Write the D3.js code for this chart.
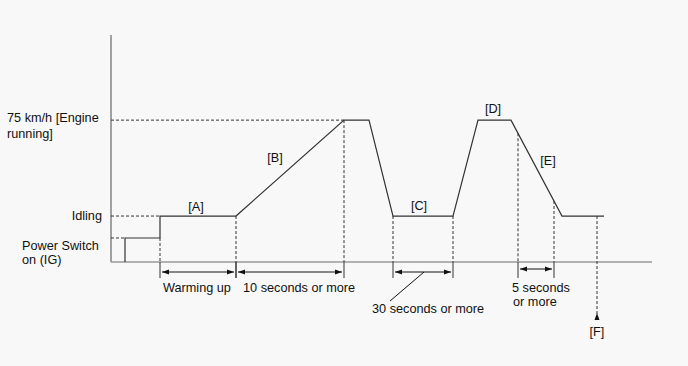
<!DOCTYPE html>
<html><head><meta charset="utf-8">
<script src="https://cdn.jsdelivr.net/npm/d3@7"></script>
<style>
html,body{margin:0;padding:0;background:#f8f8f8;}
svg{display:block;}
text{font-family:Arial,"Liberation Sans",sans-serif;font-size:12.7px;fill:#111;}
</style></head>
<body>
<svg id="c" width="688" height="366"></svg>
<script>
// ---- data (time offset in arbitrary units, speed in km/h) ----
const profileT = [14, 14, 49, 49, 125, 233, 258, 282, 342, 367, 400, 451, 493];
const profileV = [0, 12.7, 12.7, 24.3, 24.3, 75, 75, 24.3, 24.3, 75, 75, 24.3, 24.3];
const levelNames = ["Power Switch on (IG)", "Idling", "75 km/h [Engine running]"];
const levelValues = [12.7, 24.3, 75];
const phaseLabels = ["[A]", "[B]", "[C]", "[D]", "[E]"];
const intervalStart = [49, 125, 282, 407];
const intervalEnd = [125, 233, 342, 443];
const intervalLabels = ["Warming up", "10 seconds or more", "30 seconds or more", "5 seconds or more"];
const markerF = 486;

const svg = d3.select("#c");
const x = d3.scaleLinear().domain([0, 541]).range([111, 652]);
const y = d3.scaleLinear().domain([0, 120]).range([262, 35]);

const dark = "#333";
const dash = "3,2";

function vAt(t) {
  for (let i = 0; i < profileT.length - 1; i++) {
    if (t >= profileT[i] && t <= profileT[i + 1] && profileT[i + 1] > profileT[i]) {
      const f = (t - profileT[i]) / (profileT[i + 1] - profileT[i]);
      return profileV[i] + f * (profileV[i + 1] - profileV[i]);
    }
  }
  return 0;
}

// axes
svg.append("line").attr("x1", x(0)).attr("x2", x(0)).attr("y1", y(120)).attr("y2", y(0))
  .attr("stroke", "#a0a0a0").attr("stroke-width", 2);
svg.append("line").attr("x1", x(0)).attr("x2", x(541)).attr("y1", y(0)).attr("y2", y(0))
  .attr("stroke", "#9a9a9a").attr("stroke-width", 1.5);

// horizontal dashed guides
const hGuides = [[levelValues[0], profileT[1]], [levelValues[1], profileT[2]], [levelValues[2], profileT[5]]];
hGuides.forEach(([v, t]) => {
  svg.append("line").attr("x1", x(0)).attr("x2", x(t)).attr("y1", y(v)).attr("y2", y(v))
    .attr("stroke", dark).attr("stroke-dasharray", dash);
});

// vertical dashed guides
const vGuides = [profileT[2], profileT[4], profileT[5], profileT[7], profileT[8], intervalStart[3], intervalEnd[3]];
vGuides.forEach(t => {
  const top = t === profileT[2] ? levelValues[0] : vAt(t);
  svg.append("line").attr("x1", x(t)).attr("x2", x(t)).attr("y1", y(top)).attr("y2", y(0))
    .attr("stroke", dark).attr("stroke-dasharray", dash);
});

// profile line
const line = d3.line().x((d, i) => x(profileT[i])).y((d, i) => y(profileV[i]));
svg.append("path").datum(profileT).attr("d", line)
  .attr("fill", "none").attr("stroke", dark).attr("stroke-width", 1.2);

// level labels
svg.append("text").attr("x", 7).attr("y", 122).text("75 km/h [Engine");
svg.append("text").attr("x", 7).attr("y", 138).text("running]");
svg.append("text").attr("x", 102).attr("y", y(levelValues[1]) + 4).attr("text-anchor", "end").text("Idling");
svg.append("text").attr("x", 22).attr("y", 250).text("Power Switch");
svg.append("text").attr("x", 22).attr("y", 264).text("on (IG)");

// phase labels
const phasePos = [[196, 211], [275, 162], [419, 210], [493, 113], [548, 165]];
phaseLabels.forEach((l, i) => {
  svg.append("text").attr("x", phasePos[i][0]).attr("y", phasePos[i][1])
    .attr("text-anchor", "middle").text(l);
});

function arrowHead(px, py, dir) {
  const L = 7, W = 2.5;
  const pts = dir === "left" ? [[px, py], [px + L, py - W], [px + L, py + W]]
    : dir === "right" ? [[px, py], [px - L, py - W], [px - L, py + W]]
    : [[px, py], [px - W, py + L], [px + W, py + L]];
  svg.append("polygon").attr("points", pts.map(p => p.join(",")).join(" ")).attr("fill", "#111");
}

// interval dimension arrows
const arrowY = [272, 272, 272, 269];
intervalStart.forEach((s, i) => {
  const a = x(s), b = x(intervalEnd[i]), ay = arrowY[i];
  [a, b].forEach(px => svg.append("line").attr("x1", px).attr("x2", px).attr("y1", y(0)).attr("y2", 278)
    .attr("stroke", dark));
  svg.append("line").attr("x1", a + 2).attr("x2", b - 2).attr("y1", ay).attr("y2", ay).attr("stroke", "#111");
  arrowHead(a + 2, ay, "left");
  arrowHead(b - 2, ay, "right");
});

// interval labels
svg.append("text").attr("x", 163).attr("y", 292).text(intervalLabels[0]);
svg.append("text").attr("x", 243).attr("y", 292).text(intervalLabels[1]);
svg.append("line").attr("x1", 424).attr("y1", 272).attr("x2", 390).attr("y2", 301).attr("stroke", "#111");
svg.append("text").attr("x", 372).attr("y", 313).text(intervalLabels[2]);
svg.append("text").attr("x", 512).attr("y", 292).text("5 seconds");
svg.append("text").attr("x", 513).attr("y", 306).text("or more");

// marker F
svg.append("line").attr("x1", x(markerF)).attr("x2", x(markerF)).attr("y1", y(vAt(markerF))).attr("y2", 316)
  .attr("stroke", dark).attr("stroke-dasharray", dash);
arrowHead(x(markerF), 313, "up");
svg.append("text").attr("x", x(markerF)).attr("y", 336).attr("text-anchor", "middle").text("[F]");
</script>
</body></html>
